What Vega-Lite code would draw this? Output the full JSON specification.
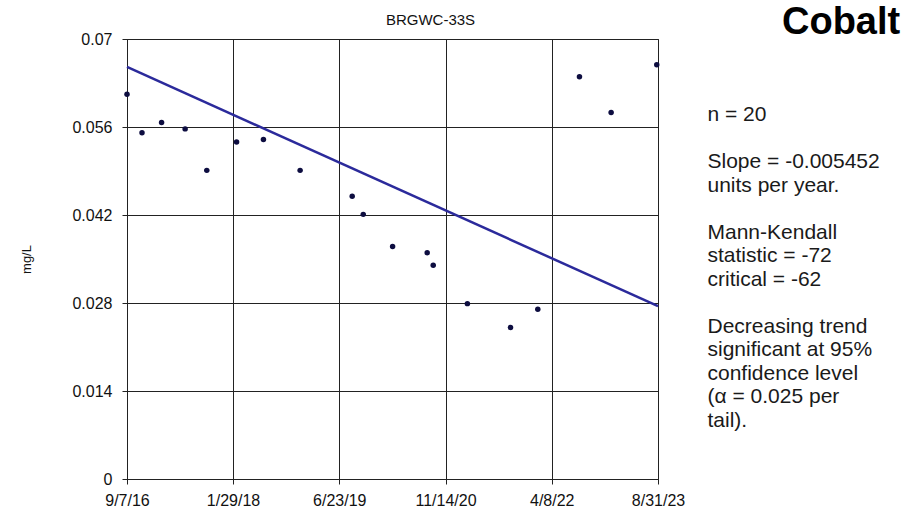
{
  "$schema": "https://vega.github.io/schema/vega-lite/v6.json",
  "width": 531,
  "height": 440,
  "autosize": {"type": "none"},
  "padding": {"left": 127, "top": 39, "right": 246, "bottom": 34},
  "background": "white",
  "title": {
    "text": "Cobalt",
    "anchor": "end",
    "align": "left",
    "dx": 124,
    "dy": 61,
    "offset": 1,
    "baseline": "alphabetic",
    "fontSize": 38,
    "fontWeight": "bold",
    "font": "Liberation Sans",
    "color": "#000",
    "frame": "group"
  },
  "datasets": {
    "samples": [
      {"date": "2016-09-07", "mg_L": 0.0612},
      {"date": "2016-11-18", "mg_L": 0.0551},
      {"date": "2017-02-20", "mg_L": 0.0567},
      {"date": "2017-06-13", "mg_L": 0.0557},
      {"date": "2017-09-25", "mg_L": 0.0491},
      {"date": "2018-02-15", "mg_L": 0.0536},
      {"date": "2018-06-24", "mg_L": 0.0540},
      {"date": "2018-12-17", "mg_L": 0.0491},
      {"date": "2019-08-24", "mg_L": 0.0450},
      {"date": "2019-10-16", "mg_L": 0.0421},
      {"date": "2020-03-05", "mg_L": 0.0370},
      {"date": "2020-08-18", "mg_L": 0.0360},
      {"date": "2020-09-16", "mg_L": 0.0340},
      {"date": "2021-02-27", "mg_L": 0.0279},
      {"date": "2021-09-22", "mg_L": 0.0241},
      {"date": "2022-01-31", "mg_L": 0.0270},
      {"date": "2022-08-19", "mg_L": 0.0640},
      {"date": "2023-01-18", "mg_L": 0.0583},
      {"date": "2023-08-25", "mg_L": 0.0659}
    ],
    "trend": [
      {"date": "2016-09-07", "mg_L": 0.06555},
      {"date": "2023-08-31", "mg_L": 0.0275}
    ]
  },
  "layer": [
    {
      "data": {"name": "samples"},
      "mark": {"type": "circle", "size": 30, "color": "#0d0d40", "opacity": 1},
      "encoding": {
        "x": {
          "field": "date",
          "type": "temporal",
          "scale": {
            "type": "utc",
            "nice": false,
            "domain": [
              {"year": 2016, "month": 9, "date": 7, "utc": true},
              {"year": 2023, "month": 8, "date": 31, "utc": true}
            ]
          },
          "axis": {
            "orient": "bottom",
            "values": [
              {"year": 2016, "month": 9, "date": 7, "utc": true},
              {"year": 2018, "month": 1, "date": 29, "utc": true},
              {"year": 2019, "month": 6, "date": 23, "utc": true},
              {"year": 2020, "month": 11, "date": 14, "utc": true},
              {"year": 2022, "month": 4, "date": 8, "utc": true},
              {"year": 2023, "month": 8, "date": 31, "utc": true}
            ],
            "labelExpr": "utcFormat(datum.value, '%-m/%-d/%y')",
            "title": null,
            "grid": true,
            "gridColor": "#222",
            "gridOpacity": 1,
            "gridWidth": 1,
            "domainColor": "#222",
            "tickColor": "#222",
            "tickSize": 5,
            "labelFontSize": 16,
            "labelColor": "#111",
            "labelPadding": 8,
            "labelFlush": false,
            "labelOverlap": false
          }
        },
        "y": {
          "field": "mg_L",
          "type": "quantitative",
          "scale": {"domain": [0, 0.07], "nice": false},
          "axis": {
            "orient": "left",
            "values": [0, 0.014, 0.028, 0.042, 0.056, 0.07],
            "format": ".3~f",
            "title": "mg/L",
            "titleFontSize": 13,
            "titleFontWeight": "normal",
            "titleColor": "#111",
            "titlePadding": 38,
            "grid": true,
            "gridColor": "#222",
            "gridOpacity": 1,
            "gridWidth": 1,
            "domainColor": "#222",
            "tickColor": "#222",
            "tickSize": 5,
            "labelFontSize": 16,
            "labelColor": "#111",
            "labelPadding": 10,
            "labelFlush": false,
            "labelOverlap": false
          }
        }
      }
    },
    {
      "data": {"name": "trend"},
      "mark": {"type": "line", "color": "#2b2a9b", "strokeWidth": 2.5},
      "encoding": {
        "x": {
          "field": "date",
          "type": "temporal",
          "scale": {"type": "utc"},
          "axis": {
            "orient": "top",
            "domain": false,
            "ticks": false,
            "labels": false,
            "grid": false,
            "title": "BRGWC-33S",
            "titleFontSize": 15,
            "titleFontWeight": "normal",
            "titleColor": "#111",
            "titleX": 303,
            "titleY": -20,
            "titleAlign": "center",
            "titleBaseline": "middle",
            "titleAngle": 0
          }
        },
        "y": {
          "field": "mg_L",
          "type": "quantitative",
          "axis": {
            "orient": "right",
            "domain": false,
            "ticks": false,
            "labels": false,
            "grid": false,
            "title": ["n = 20", "\u200b", "Slope = -0.005452", "units per year.", "\u200b", "Mann-Kendall", "statistic = -72", "critical = -62", "\u200b", "Decreasing trend", "significant at 95%", "confidence level", "(α = 0.025 per", "tail)."],
            "titleFontSize": 21,
            "titleFontWeight": "normal",
            "titleColor": "#1a1a1a",
            "titleX": 49,
            "titleY": 81.5,
            "titleAlign": "left",
            "titleBaseline": "alphabetic",
            "titleAngle": 0,
            "titleLineHeight": 23.5
          }
        }
      }
    }
  ],
  "resolve": {"axis": {"x": "independent", "y": "independent"}},
  "config": {
    "font": "Liberation Sans",
    "view": {"stroke": "#222"},
    "axis": {"labelFont": "Liberation Sans", "titleFont": "Liberation Sans"}
  }
}
